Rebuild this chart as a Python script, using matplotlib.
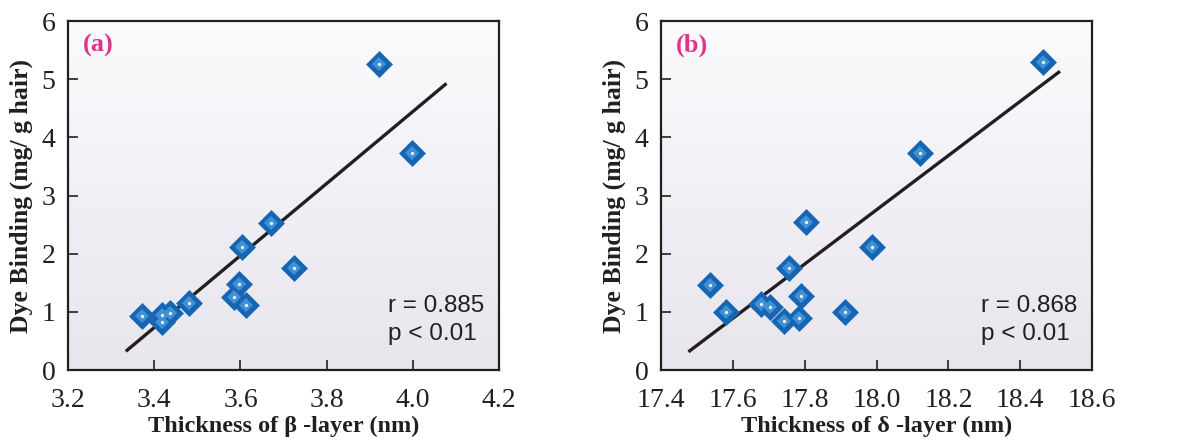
import matplotlib.pyplot as plt
import numpy as np

# panel (a): beta-layer thickness vs dye binding
beta_x = [3.372, 3.419, 3.419, 3.436, 3.481, 3.585, 3.596, 3.614, 3.603, 3.670, 3.724, 3.922, 3.999]
beta_y = [0.93, 0.95, 0.82, 0.98, 1.15, 1.25, 1.48, 1.12, 2.12, 2.53, 1.76, 5.27, 3.73]
beta_fit_x = [3.337, 4.075]
beta_fit_y = [0.34, 4.91]

# panel (b): delta-layer thickness vs dye binding
delta_x = [17.535, 17.582, 17.677, 17.704, 17.743, 17.757, 17.785, 17.790, 17.805, 17.911, 17.986, 18.120, 18.463]
delta_y = [1.47, 0.99, 1.13, 1.09, 0.85, 1.75, 0.90, 1.28, 2.55, 0.99, 2.12, 3.74, 5.29]
delta_fit_x = [17.480, 18.507]
delta_fit_y = [0.33, 5.12]

beta_xticks = [3.2, 3.4, 3.6, 3.8, 4.0, 4.2]
delta_xticks = [17.4, 17.6, 17.8, 18.0, 18.2, 18.4, 18.6]
yticks = [0, 1, 2, 3, 4, 5, 6]

SERIF = ['Liberation Serif', 'DejaVu Serif']
SANS = ['Liberation Sans', 'DejaVu Sans']


def draw_panel(ax, x, y, fx, fy, xticks, xlabel, tag, r_text):
    xlim = (xticks[0], xticks[-1])
    # soft vertical gradient background, white on top
    grad = np.linspace(0, 1, 256).reshape(-1, 1, 1)
    top = np.array([251, 251, 253]) / 255
    bot = np.array([232, 229, 237]) / 255
    img = top + (bot - top) * grad
    ax.imshow(img, extent=[xlim[0], xlim[1], 0, 6], origin='upper',
              aspect='auto', zorder=0)

    ax.plot(fx, fy, color='#231f20', lw=2.4, zorder=2)
    ax.plot(x, y, 'D', ms=13, color='#1565b3', mec='#1a6cb8', mew=0.5, zorder=3)
    ax.plot(x, y, 'D', ms=7, color='#3f91d4', mew=0, zorder=4)
    ax.plot(x, y, 'o', ms=2.4, color='#e8f2fb', mew=0, zorder=5)

    ax.set_xlim(*xlim)
    ax.set_ylim(0, 6)
    ax.set_xticks(xticks)
    ax.set_xticklabels([f'{t:.1f}' for t in xticks])
    ax.set_yticks(yticks)
    ax.tick_params(direction='in', length=7, width=1.2, labelsize=20,
                   top=False, right=False, colors='#231f20')
    ax.tick_params(axis='x', pad=13)
    ax.tick_params(axis='y', pad=9)
    for lab in ax.get_xticklabels() + ax.get_yticklabels():
        lab.set_family(SERIF)
    for s in ax.spines.values():
        s.set_linewidth(1.6)
        s.set_color('#231f20')

    ax.set_xlabel(xlabel, family=SERIF, fontweight='bold', fontsize=17.5,
                  labelpad=2, color='#231f20')
    ax.set_ylabel('Dye Binding (mg/ g hair)', family=SERIF, fontweight='bold',
                  fontsize=18.5, labelpad=6, color='#231f20')
    ax.text(0.035, 0.93, tag, transform=ax.transAxes, family=SERIF,
            fontweight='bold', fontsize=19, color='#e0338f', va='center')
    ax.text(0.743, 0.085, r_text, transform=ax.transAxes, family=SANS,
            fontsize=17.5, color='#231f20', va='baseline', linespacing=1.4)


fig = plt.figure(figsize=(11.81, 4.45), dpi=100)
ax1 = fig.add_axes([0.0576, 0.1685, 0.365, 0.784])
ax2 = fig.add_axes([0.5597, 0.1685, 0.365, 0.784])

draw_panel(ax1, beta_x, beta_y, beta_fit_x, beta_fit_y, beta_xticks,
           'Thickness of β -layer (nm)', '(a)', 'r = 0.885\np < 0.01')
draw_panel(ax2, delta_x, delta_y, delta_fit_x, delta_fit_y, delta_xticks,
           'Thickness of δ -layer (nm)', '(b)', 'r = 0.868\np < 0.01')

fig.savefig('out.png', dpi=100)
